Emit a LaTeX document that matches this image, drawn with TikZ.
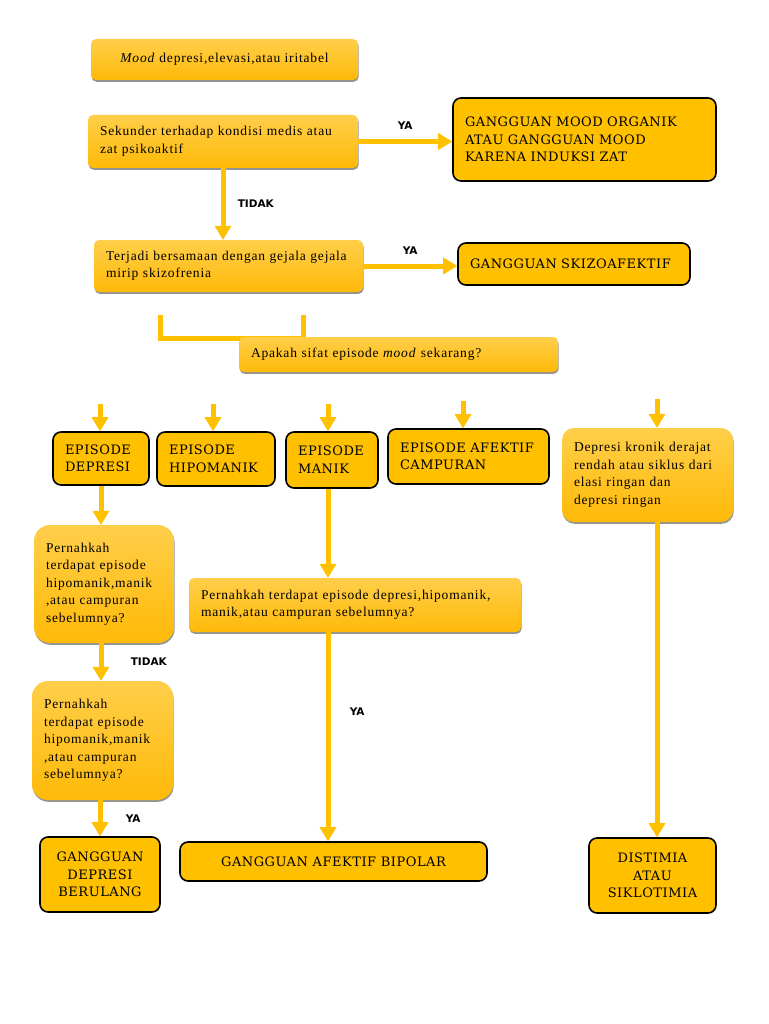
\documentclass[tikz,border=0pt]{standalone}
\usepackage{fontspec}
\setmainfont{Liberation Serif}
\newfontfamily\boxfont[LetterSpace=6]{Liberation Serif}
\newfontfamily\capfont[LetterSpace=4]{DejaVu Serif}
\newfontfamily\labfont{DejaVu Sans}
\usetikzlibrary{arrows.meta,shadows,positioning}

\definecolor{amber}{HTML}{FFC000}
\definecolor{amberlight}{HTML}{FFCE4A}
\definecolor{amberdark}{HTML}{FFBA08}

\begin{document}
\begin{tikzpicture}[x=1pt,y=-1pt,
  >={Triangle[width=17pt,length=14pt,line width=0pt,fill=amber]},
  conn/.style={->,draw=amber,line width=5pt},
  bar/.style={draw=amber,line width=5pt},
  soft/.style={rectangle,rounded corners=5pt,top color=amberlight,bottom color=amberdark,
    drop shadow={shadow xshift=0.6pt,shadow yshift=-1.8pt,opacity=0.6,fill=black!70},
    font=\boxfont\fontsize{13.5}{17.5}\selectfont,align=left,inner xsep=12pt,inner ysep=3pt},
  hard/.style={rectangle,rounded corners=8pt,fill=amber,draw=black,line width=1.6pt,
    font=\capfont\fontsize{13}{17.5}\selectfont,align=left,inner xsep=12pt,inner ysep=3pt},
  lab/.style={font=\labfont\bfseries\fontsize{10.5}{12}\selectfont}]

\useasboundingbox[fill=white] (0,0) rectangle (768,1024);

% bracket under the second question
\draw[bar] (160,315) -- (160,338) -- (303,338) -- (303,315);

% upper part
\node[soft,minimum width=267pt,minimum height=41pt,align=center] (Mood) at (224.5,59.5)
  {\textit{Mood} depresi,elevasi,atau iritabel};
\node[soft,minimum width=270pt,minimum height=53pt,text width=246pt] (Sek) at (223,141.5)
  {Sekunder terhadap kondisi medis atau\\zat psikoaktif};
\node[hard,minimum width=263pt,minimum height=83pt,text width=239pt] (Org) at (584.5,139.5)
  {GANGGUAN MOOD ORGANIK\\ATAU GANGGUAN MOOD\\KARENA INDUKSI ZAT};
\node[soft,minimum width=269pt,minimum height=52pt,text width=245pt] (Ter) at (228.5,266)
  {Terjadi bersamaan dengan gejala gejala\\mirip skizofrenia};
\node[hard,minimum width=232pt,minimum height=42pt,text width=208pt] (Skz) at (574,264)
  {GANGGUAN SKIZOAFEKTIF};
\node[soft,minimum width=319pt,minimum height=35pt,text width=295pt] (Apa) at (398.5,354.5)
  {Apakah sifat episode \textit{mood} sekarang?};

% episodes
\node[hard,minimum width=96pt,minimum height=53pt,text width=72pt] (EDep) at (101,458.5)
  {EPISODE\\DEPRESI};
\node[hard,minimum width=118pt,minimum height=54pt,text width=94pt] (EHip) at (216,459)
  {EPISODE\\HIPOMANIK};
\node[hard,minimum width=92pt,minimum height=56pt,text width=68pt] (EMan) at (332,460)
  {EPISODE\\MANIK};
\node[hard,minimum width=161pt,minimum height=55pt,text width=137pt] (ECam) at (468.5,456.5)
  {EPISODE AFEKTIF\\CAMPURAN};
\node[soft,rounded corners=12pt,minimum width=171pt,minimum height=94pt,text width=147pt] (Kro) at (647.5,475)
  {Depresi kronik derajat\\rendah atau siklus dari\\elasi ringan dan\\depresi ringan};

% questions
\node[soft,rounded corners=16pt,minimum width=140pt,minimum height=118pt,text width=116pt] (Per1) at (104,584)
  {Pernahkah\\terdapat episode\\hipomanik,manik\\,atau campuran\\sebelumnya?};
\node[soft,minimum width=332pt,minimum height=54pt,text width=308pt] (PerB) at (355,605)
  {Pernahkah terdapat episode depresi,hipomanik,\\manik,atau campuran sebelumnya?};
\node[soft,rounded corners=16pt,minimum width=141pt,minimum height=119pt,text width=117pt] (Per2) at (102.5,740.5)
  {Pernahkah\\terdapat episode\\hipomanik,manik\\,atau campuran\\sebelumnya?};

% diagnoses
\node[hard,align=center,minimum width=120pt,minimum height=75pt] (GDB) at (100,874.5)
  {GANGGUAN\\DEPRESI\\BERULANG};
\node[hard,align=center,minimum width=307pt,minimum height=39pt] (GAB) at (333.5,861.5)
  {GANGGUAN AFEKTIF BIPOLAR};
\node[hard,align=center,minimum width=127pt,minimum height=75pt] (Dis) at (652.5,875.5)
  {DISTIMIA\\ATAU\\SIKLOTIMIA};

% free arrows above the episodes
\coordinate (T1) at (100,404);
\coordinate (T2) at (213,404);
\coordinate (T3) at (328,404);
\coordinate (T4) at (463,401);
\coordinate (T5) at (657,399);

\path[every edge/.style=conn]
(Sek.east)  edge node[lab,above=6pt] {YA} (Sek.east -| Org.west)
(Sek.south) edge node[lab,right=9pt] {TIDAK} (Sek.south |- Ter.north)
(Ter.east)  edge node[lab,above=6pt] {YA} (Ter.east -| Skz.west)
(T1) edge (T1 |- EDep.north)
(T2) edge (T2 |- EHip.north)
(T3) edge (T3 |- EMan.north)
(T4) edge (T4 |- ECam.north)
(T5) edge (T5 |- Kro.north)
(EDep.south) edge (EDep.south |- Per1.north)
(Per1.south -| EDep) edge node[lab,right=24pt] {TIDAK} (Per2.north -| EDep)
(Per2.south -| GDB) edge node[lab,right=20pt] {YA} (GDB.north)
(EMan.south -| T3) edge (PerB.north -| T3)
(PerB.south -| T3) edge node[lab,pos=0.38,right=16pt] {YA} (GAB.north -| T3)
(Kro.south -| T5) edge (Dis.north -| T5)
;
\end{tikzpicture}
\end{document}
